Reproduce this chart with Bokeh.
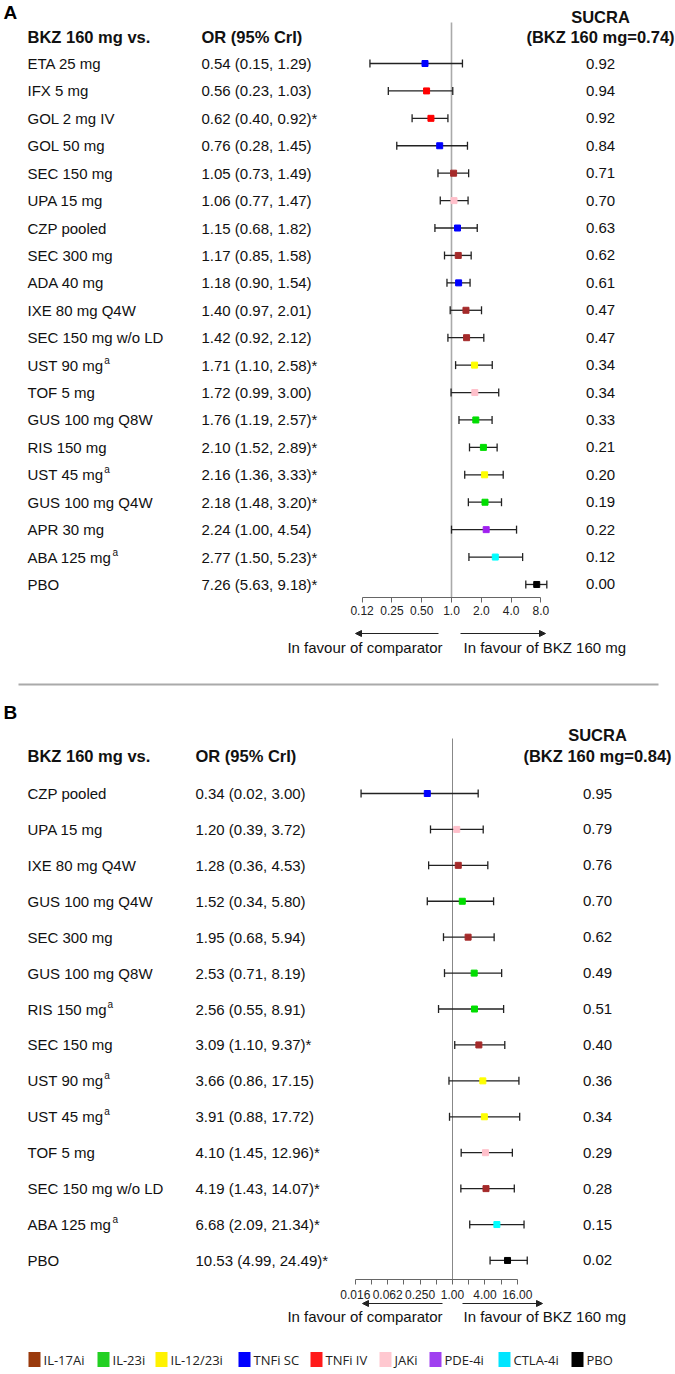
import numpy as np
from bokeh.plotting import figure
from bokeh.models import (Range1d, LogScale, LinearScale, LogAxis, FixedTicker,
                          ColumnDataSource, Arrow, NormalHead)
from bokeh.embed import file_html
from bokeh.resources import INLINE
from bokeh.core.properties import value

# ---------------- data : panel A ----------------
a_names = ["ETA 25 mg", "IFX 5 mg", "GOL 2 mg IV", "GOL 50 mg", "SEC 150 mg", "UPA 15 mg",
           "CZP pooled", "SEC 300 mg", "ADA 40 mg", "IXE 80 mg Q4W", "SEC 150 mg w/o LD",
           "UST 90 mg", "TOF 5 mg", "GUS 100 mg Q8W", "RIS 150 mg", "UST 45 mg",
           "GUS 100 mg Q4W", "APR 30 mg", "ABA 125 mg", "PBO"]
a_sup = [0, 0, 0, 0, 0, 0, 0, 0, 0, 0, 0, 1, 0, 0, 0, 1, 0, 0, 1, 0]
a_or = [0.54, 0.56, 0.62, 0.76, 1.05, 1.06, 1.15, 1.17, 1.18, 1.40, 1.42, 1.71, 1.72,
        1.76, 2.10, 2.16, 2.18, 2.24, 2.77, 7.26]
a_lo = [0.15, 0.23, 0.40, 0.28, 0.73, 0.77, 0.68, 0.85, 0.90, 0.97, 0.92, 1.10, 0.99,
        1.19, 1.52, 1.36, 1.48, 1.00, 1.50, 5.63]
a_hi = [1.29, 1.03, 0.92, 1.45, 1.49, 1.47, 1.82, 1.58, 1.54, 2.01, 2.12, 2.58, 3.00,
        2.57, 2.89, 3.33, 3.20, 4.54, 5.23, 9.18]
a_star = [0, 0, 1, 0, 0, 0, 0, 0, 0, 0, 0, 1, 0, 1, 1, 1, 1, 0, 1, 1]
a_sucra = [0.92, 0.94, 0.92, 0.84, 0.71, 0.70, 0.63, 0.62, 0.61, 0.47, 0.47, 0.34, 0.34,
           0.33, 0.21, 0.20, 0.19, 0.22, 0.12, 0.00]
a_class = ["TNFi SC", "TNFi IV", "TNFi IV", "TNFi SC", "IL-17Ai", "JAKi", "TNFi SC",
           "IL-17Ai", "TNFi SC", "IL-17Ai", "IL-17Ai", "IL-12/23i", "JAKi", "IL-23i",
           "IL-23i", "IL-12/23i", "IL-23i", "PDE-4i", "CTLA-4i", "PBO"]
a_ref_sucra = "0.74"
a_ticks = [0.125, 0.25, 0.5, 1.0, 2.0, 4.0, 8.0]
a_tick_labels = ["0.12", "0.25", "0.50", "1.0", "2.0", "4.0", "8.0"]

# ---------------- data : panel B ----------------
b_names = ["CZP pooled", "UPA 15 mg", "IXE 80 mg Q4W", "GUS 100 mg Q4W", "SEC 300 mg",
           "GUS 100 mg Q8W", "RIS 150 mg", "SEC 150 mg", "UST 90 mg", "UST 45 mg",
           "TOF 5 mg", "SEC 150 mg w/o LD", "ABA 125 mg", "PBO"]
b_sup = [0, 0, 0, 0, 0, 0, 1, 0, 1, 1, 0, 0, 1, 0]
b_or = [0.34, 1.20, 1.28, 1.52, 1.95, 2.53, 2.56, 3.09, 3.66, 3.91, 4.10, 4.19, 6.68, 10.53]
b_lo = [0.02, 0.39, 0.36, 0.34, 0.68, 0.71, 0.55, 1.10, 0.86, 0.88, 1.45, 1.43, 2.09, 4.99]
b_hi = [3.00, 3.72, 4.53, 5.80, 5.94, 8.19, 8.91, 9.37, 17.15, 17.72, 12.96, 14.07, 21.34, 24.49]
b_star = [0, 0, 0, 0, 0, 0, 0, 1, 0, 0, 1, 1, 1, 1]
b_sucra = [0.95, 0.79, 0.76, 0.70, 0.62, 0.49, 0.51, 0.40, 0.36, 0.34, 0.29, 0.28, 0.15, 0.02]
b_class = ["TNFi SC", "JAKi", "IL-17Ai", "IL-23i", "IL-17Ai", "IL-23i", "IL-23i", "IL-17Ai",
           "IL-12/23i", "IL-12/23i", "JAKi", "IL-17Ai", "CTLA-4i", "PBO"]
b_ref_sucra = "0.84"
b_ticks = [2 ** -6, 2 ** -4, 0.25, 1.0, 4.0, 16.0]
b_tick_labels = ["0.016", "0.062", "0.250", "1.00", "4.00", "16.00"]
b_minor_ticks = [2 ** -5, 2 ** -3, 0.5, 2.0, 8.0]

# ---------------- legend ----------------
classes = ["IL-17Ai", "IL-23i", "IL-12/23i", "TNFi SC", "TNFi IV", "JAKi", "PDE-4i", "CTLA-4i", "PBO"]
legend_colors = ["#9A3A0C", "#22D022", "#FFF200", "#0000FF", "#FF1A1A", "#FFC8D0", "#A040F0", "#00E5FF", "#000000"]
marker_colors = {"IL-17Ai": "#A52A2A", "IL-23i": "#00DD00", "IL-12/23i": "#FFFF00",
                 "TNFi SC": "#0000FF", "TNFi IV": "#FF0000", "JAKi": "#FFC0CB",
                 "PDE-4i": "#A020F0", "CTLA-4i": "#00FFFF", "PBO": "#000000"}
legend_x = [28, 97, 155, 238, 310, 379, 429, 498, 571]   # left edges of swatches (px)

# ---------------- layout constants (pixels on page) ----------------
W, H = 675, 1374
X0, X1, Y0, Y1 = 0, W, 0, H
FONT = value("Liberation Sans")
TXT = "#111111"
FS = "15px"
HFS = "16.5px"

ARIAL = {" ": 278, "0": 556, "1": 556, "2": 556, "3": 556, "4": 556, "5": 556, "6": 556,
         "7": 556, "8": 556, "9": 556, "m": 833, "g": 556, "U": 722, "S": 667, "T": 611,
         "A": 667, "B": 667, "R": 722, "I": 278}


def text_width(s, size):
    return sum(ARIAL.get(c, 556) for c in s) * size / 1000.0


p = figure(width=W, height=H, x_range=Range1d(X0, X1), y_range=Range1d(Y1, Y0),
           output_backend="svg", toolbar_location=None, min_border=0,
           x_axis_type=None, y_axis_type=None, outline_line_color=None,
           background_fill_color="white", border_fill_color="white")


def log_range(cx, k):
    return Range1d(2 ** ((X0 - cx) / k), 2 ** ((X1 - cx) / k))


def row_range(y_first, dy):
    return Range1d((Y1 - y_first) / dy, (Y0 - y_first) / dy)


panels = [
    dict(key="a", names=a_names, sup=a_sup, orv=a_or, lo=a_lo, hi=a_hi, star=a_star,
         sucra=a_sucra, cls=a_class, ref=a_ref_sucra, ticks=a_ticks, tlab=a_tick_labels,
         minor=[], letter="A", letter_y=12, cx=451, k=29.8, y_first=63, dy=27.42,
         head_y=36, sucra_y=16, vtop=22, axis_y=597, arrow_y=633, fav_y=647,
         lab_x=27, or_x=201, suc_x=600, bounds=(0.125, 8.0), ref_lw=1.6, ref_col="#aaaaaa",
         la=(438, 355), ra=(460, 545), lt=442, rt=463, standoff=3),
    dict(key="b", names=b_names, sup=b_sup, orv=b_or, lo=b_lo, hi=b_hi, star=b_star,
         sucra=b_sucra, cls=b_class, ref=b_ref_sucra, ticks=b_ticks, tlab=b_tick_labels,
         minor=b_minor_ticks, letter="B", letter_y=712, cx=452, k=16.2, y_first=793, dy=35.92,
         head_y=755, sucra_y=734, vtop=738, axis_y=1279, arrow_y=1303, fav_y=1316,
         lab_x=27, or_x=195, suc_x=597, bounds=(2 ** -6, 16.0), ref_lw=1.0, ref_col="#888888",
         la=(442, 362), ra=(462, 542), lt=442, rt=463, standoff=5),
]

extra_x, extra_xs, extra_y, extra_ys = {}, {}, {}, {}
for P in panels:
    extra_x["l" + P["key"]] = log_range(P["cx"], P["k"])
    extra_xs["l" + P["key"]] = LogScale()
    extra_y["r" + P["key"]] = row_range(P["y_first"], P["dy"])
    extra_ys["r" + P["key"]] = LinearScale()
p.extra_x_ranges = extra_x
p.extra_x_scales = extra_xs
p.extra_y_ranges = extra_y
p.extra_y_scales = extra_ys

for P in panels:
    xr, yr = "l" + P["key"], "r" + P["key"]
    n = len(P["names"])
    rows = list(range(n))
    or_txt = ["%.2f (%.2f, %.2f)%s" % (o, l, h, "*" if s else "")
              for o, l, h, s in zip(P["orv"], P["lo"], P["hi"], P["star"])]
    src = ColumnDataSource(dict(
        row=rows, name=P["names"], ortxt=or_txt, sucra=["%.2f" % s for s in P["sucra"]],
        est=P["orv"], lo=P["lo"], hi=P["hi"],
        color=[marker_colors[c] for c in P["cls"]],
        labx=[P["lab_x"]] * n, orx=[P["or_x"]] * n, sucx=[P["suc_x"]] * n))

    # panel letter and headers
    p.text(x=[3], y=[P["letter_y"]], text=[P["letter"]], text_font=FONT, text_font_size="19px",
           text_font_style="bold", text_color="#000", text_baseline="middle")
    p.text(x=[P["lab_x"], P["or_x"]], y=[P["head_y"]] * 2, text=["BKZ 160 mg vs.", "OR (95% CrI)"],
           text_font=FONT, text_font_size=HFS, text_font_style="bold", text_color=TXT,
           text_baseline="middle")
    p.text(x=[P["suc_x"]] * 2, y=[P["sucra_y"], P["head_y"]],
           text=["SUCRA", "(BKZ 160 mg=%s)" % P["ref"]],
           text_font=FONT, text_font_size=HFS, text_font_style="bold", text_color=TXT,
           text_baseline="middle", text_align="center")

    # text columns
    for col, align in (("labx", "left"), ("orx", "left"), ("sucx", "center")):
        txtcol = {"labx": "name", "orx": "ortxt", "sucx": "sucra"}[col]
        p.text(x=col, y="row", text=txtcol, source=src, y_range_name=yr,
               text_font=FONT, text_font_size=FS, text_color=TXT,
               text_baseline="middle", text_align=align)

    # superscript "a"
    sx, sy = [], []
    for i, (nm, s) in enumerate(zip(P["names"], P["sup"])):
        if s:
            sx.append(P["lab_x"] + text_width(nm, 15) + 0.8)
            sy.append(i)
    p.text(x=sx, y=sy, text=["a"] * len(sx), y_range_name=yr, text_font=FONT,
           text_font_size="10px", text_color=TXT, text_baseline="middle", y_offset=-5)

    # reference line at OR = 1
    p.segment(x0=[1.0], x1=[1.0], y0=[P["vtop"]], y1=[P["axis_y"]], x_range_name=xr,
              line_color=P["ref_col"], line_width=P["ref_lw"])

    # credible intervals
    p.segment(x0="lo", x1="hi", y0="row", y1="row", source=src, x_range_name=xr,
              y_range_name=yr, line_color="#222222", line_width=1.3)
    for end in ("lo", "hi"):
        p.scatter(x=end, y="row", source=src, x_range_name=xr, y_range_name=yr,
                  marker="dash", angle=np.pi / 2, size=8, line_color="#222222", line_width=1.3)
    p.scatter(x="est", y="row", source=src, x_range_name=xr, y_range_name=yr,
              marker="square", size=6, fill_color="color", line_color="color")

    # axis
    ax = LogAxis(x_range_name=xr, ticker=FixedTicker(ticks=P["ticks"], minor_ticks=P["minor"]),
                 bounds=P["bounds"], fixed_location=P["axis_y"],
                 major_label_overrides={float(t): l for t, l in zip(P["ticks"], P["tlab"])},
                 axis_line_color="#666666", axis_line_width=1,
                 major_tick_line_color="#666666", major_tick_in=0, major_tick_out=5,
                 minor_tick_line_color="#666666", minor_tick_in=0, minor_tick_out=5,
                 major_label_standoff=P["standoff"],
                 major_label_text_font="Liberation Sans", major_label_text_font_size="12px",
                 major_label_text_color="#222222")
    p.add_layout(ax, "below")

    # favour arrows and texts
    ay = P["arrow_y"]
    for (xs, xe) in (P["la"], P["ra"]):
        p.add_layout(Arrow(end=NormalHead(size=6, fill_color="#222", line_color="#222"),
                           x_start=xs, y_start=ay, x_end=xe, y_end=ay,
                           line_color="#222", line_width=1))
    p.text(x=[P["lt"]], y=[P["fav_y"]], text=["In favour of comparator"],
           text_font=FONT, text_font_size="15px", text_color=TXT, text_baseline="middle",
           text_align="right")
    p.text(x=[P["rt"]], y=[P["fav_y"]], text=["In favour of BKZ 160 mg"],
           text_font=FONT, text_font_size="15px", text_color=TXT, text_baseline="middle",
           text_align="left")

# separator line
p.segment(x0=[18], x1=[658], y0=[684], y1=[684], line_color="#aaaaaa", line_width=2)

# legend
lsrc = ColumnDataSource(dict(x=[x + 6 for x in legend_x], tx=[x + 15 for x in legend_x],
                             y=[1359] * len(classes), label=classes, color=legend_colors))
p.rect(x="x", y="y", width=12, height=15, source=lsrc, fill_color="color", line_color=None)
p.text(x="tx", y="y", text="label", source=lsrc, text_font=value("Open Sans"),
       text_font_size="13px", text_color="#222", text_baseline="middle")

open("out.html", "w").write(file_html(p, INLINE))
